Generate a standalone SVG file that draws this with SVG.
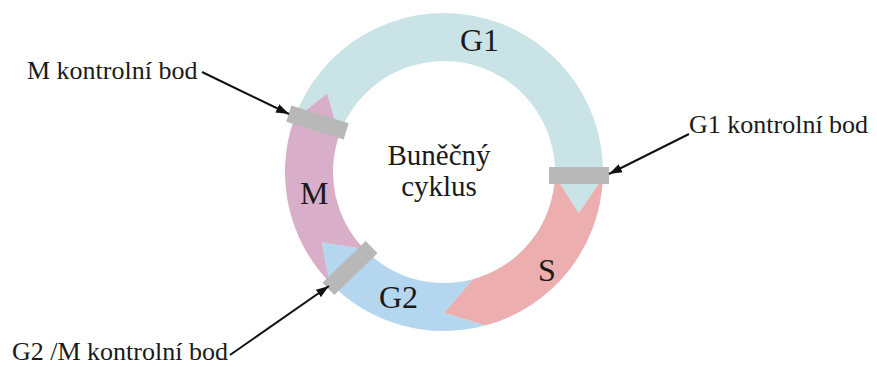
<svg xmlns="http://www.w3.org/2000/svg" width="877" height="367" viewBox="0 0 877 367">
<style>
.lbl{font-family:"Liberation Serif","Times New Roman",serif;fill:#1a1a1a}
.ph{font-size:32px}
.cp{font-size:26px}
.ctr{font-size:29px;text-anchor:middle}
.chk{fill:#b8b8b8}
.con{stroke:#111;stroke-width:2;fill:none;marker-end:url(#ah)}
</style>
<defs>
<marker id="ah" markerUnits="userSpaceOnUse" markerWidth="14" markerHeight="10" refX="13" refY="5" orient="auto">
<path d="M0,0.5 L13,5 L0,9.5 Z" fill="#111"/>
</marker>
</defs>
<rect width="877" height="367" fill="#fff"/>
<g id="phase-G1">
<path d="M293.66,120.23 A159,159 0 0 1 602.90,177.55 L578.84,213.22 L554.93,175.87 A111,111 0 0 0 339.05,135.86 L327.11,93.15 Z" fill="#c9e3e7"/>
<text class="lbl ph" x="460" y="51">G1</text>
</g>
<g id="phase-S">
<path d="M602.90,177.55 A159,159 0 0 1 485.15,325.58 L444,313 L472.73,279.22 A111,111 0 0 0 554.93,175.87 L578.84,213.22 Z" fill="#ecaeae"/>
<text class="lbl ph" x="538" y="281">S</text>
</g>
<g id="phase-G2">
<path d="M485.15,325.58 A159,159 0 0 1 329.63,282.45 L321.89,242.5 L364.15,249.11 A111,111 0 0 0 472.73,279.22 L444,313 Z" fill="#b4d6ee"/>
<text class="lbl ph" x="379" y="308">G2</text>
</g>
<g id="phase-M">
<path d="M329.63,282.45 A159,159 0 0 1 293.66,120.23 L327.11,93.15 L339.05,135.86 A111,111 0 0 0 364.15,249.11 L321.89,242.5 Z" fill="#d8aec9"/>
<text class="lbl ph" x="300" y="204">M</text>
</g>
<g id="center-label">
<text class="lbl ctr" x="439" y="165">Buněčný</text>
<text class="lbl ctr" x="439" y="196">cyklus</text>
</g>
<g id="checkpoint-G1">
<rect class="chk" x="549" y="167" width="60" height="17"/>
<text class="lbl cp" x="689" y="133">G1 kontrolní bod</text>
</g>
<g id="checkpoint-M">
<rect class="chk" x="-30" y="-8.5" width="60" height="17" transform="translate(317.5,122.5) rotate(17)"/>
<text class="lbl cp" x="27" y="79">M kontrolní bod</text>
</g>
<g id="checkpoint-G2M">
<rect class="chk" x="-30" y="-8.5" width="60" height="17" transform="translate(350,268) rotate(-44)"/>
<text class="lbl cp" x="12" y="360">G2 /M kontrolní bod</text>
</g>
<g id="connectors">
<line class="con" x1="202" y1="72" x2="289" y2="114"/>
<line class="con" x1="689" y1="134" x2="609" y2="174"/>
<line class="con" x1="230" y1="355" x2="329" y2="286"/>
</g>
</svg>
